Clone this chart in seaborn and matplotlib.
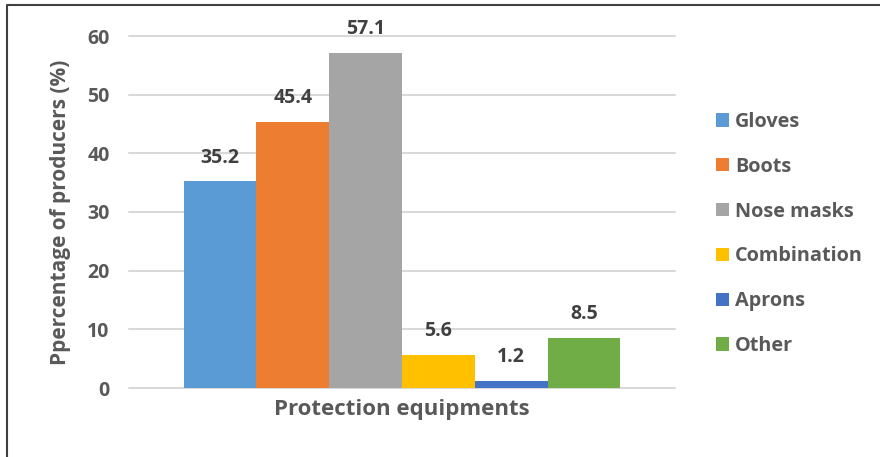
import matplotlib
matplotlib.use("Agg")
import matplotlib.pyplot as plt
import seaborn as sns
import pandas as pd
from matplotlib.lines import Line2D

items = ["Gloves", "Boots", "Nose masks", "Combination", "Aprons", "Other"]
values = [35.2, 45.4, 57.1, 5.6, 1.2, 8.5]
colors = ["#5B9BD5", "#ED7D31", "#A5A5A5", "#FFC000", "#4472C4", "#70AD47"]
category = "Protection equipments"
yticks = [0, 10, 20, 30, 40, 50, 60]

sns.set_theme(style="white")
plt.rcParams["font.family"] = ["Open Sans", "DejaVu Sans"]
plt.rcParams["font.weight"] = "bold"

FS = 14

df = pd.DataFrame({"cat": [category] * len(items), "item": items, "value": values})

fig = plt.figure(figsize=(8.8, 4.57), dpi=100)
ax = fig.add_axes([129/880, 1-388/457, (675-129)/880, (388-36)/457])

sns.barplot(data=df, x="cat", y="value", hue="item", hue_order=items,
            palette=colors, width=0.8, saturation=1, ax=ax, legend=True, linewidth=0)

ax.set_ylim(0, 60)
ax.set_xlim(-0.5, 0.5)
ax.set_yticks(yticks)
ax.yaxis.grid(True, color="#D9D9D9", linewidth=1.5)
ax.set_axisbelow(True)
for s in ax.spines.values():
    s.set_visible(False)
ax.tick_params(axis="both", length=0, labelsize=FS, labelcolor="#595959", pad=14)
ax.set_xticks([])
ax.set_xlabel(category, fontsize=16, color="#595959", fontweight="bold", labelpad=8)
ax.set_ylabel("Ppercentage of producers (%)", fontsize=15, color="#595959",
              fontweight="bold", labelpad=12)
for lbl in ax.get_yticklabels():
    lbl.set_fontweight("bold")

for cont in ax.containers:
    ax.bar_label(cont, fmt="%.1f", padding=10, fontsize=FS, color="#404040",
                 fontweight="bold")

for line in ax.get_ygridlines():
    line.set_clip_on(False)

handles, labels = ax.get_legend_handles_labels()
ax.get_legend().remove()
leg = fig.legend(handles, labels, loc="center left", bbox_to_anchor=(716/880, 1-234/457),
                 frameon=False, fontsize=14.3, handlelength=0.65, handleheight=0.65,
                 handletextpad=0.3, labelspacing=1.25, borderpad=0, borderaxespad=0)
for t in leg.get_texts():
    t.set_color("#595959")
    t.set_fontweight("bold")

fig.add_artist(Line2D([7/880, 7/880, 1], [0, 1-5/457, 1-5/457], color="#404040",
                      linewidth=1.5, transform=fig.transFigure))

fig.savefig("out.png", dpi=100)
